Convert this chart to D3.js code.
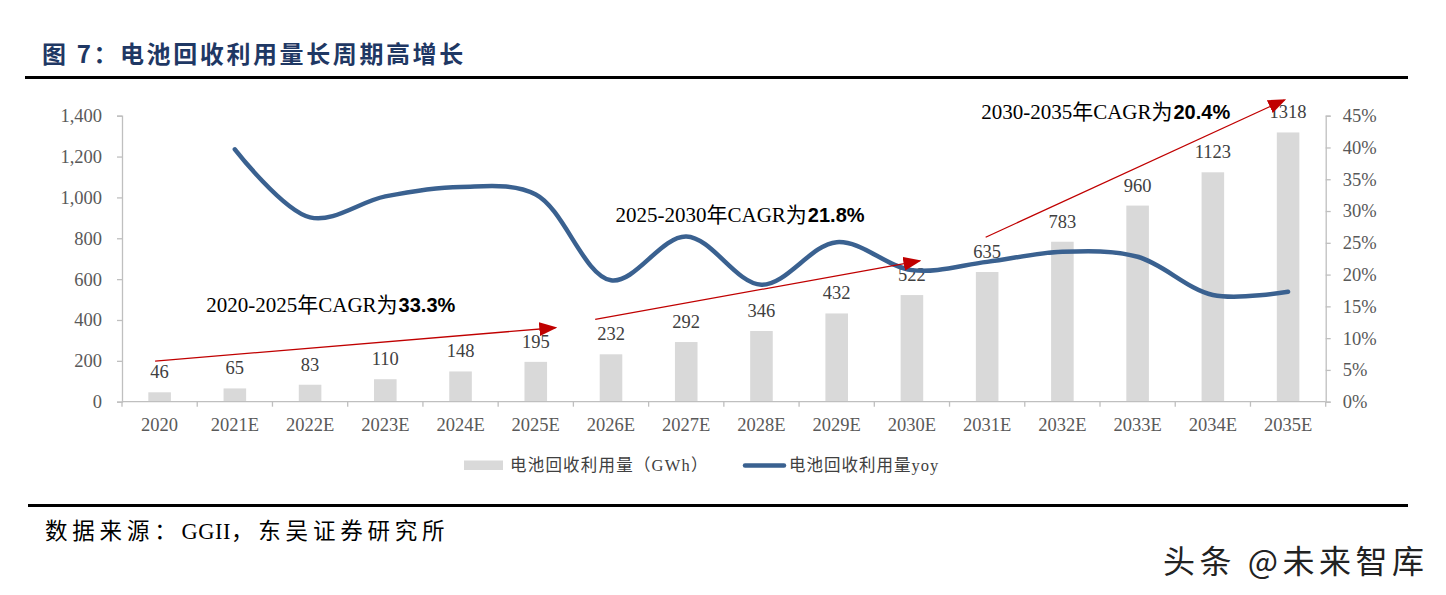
<!DOCTYPE html>
<html><head><meta charset="utf-8">
<script src="https://cdn.jsdelivr.net/npm/d3@7"></script>
<style>
html,body{margin:0;padding:0;background:#fff;}
svg{display:block;}
</style></head>
<body>
<svg id="chart" width="1446" height="595"></svg>
<script>
const categories = ["2020","2021E","2022E","2023E","2024E","2025E","2026E","2027E","2028E","2029E","2030E","2031E","2032E","2033E","2034E","2035E"];
const volume = [46,65,83,110,148,195,232,292,346,432,522,635,783,960,1123,1318];
const yoy = [null,0.397,0.290,0.323,0.338,0.326,0.191,0.260,0.184,0.251,0.207,0.220,0.236,0.228,0.168,0.173];
const leftTicks = [0,200,400,600,800,1000,1200,1400];
const rightTicks = [0,0.05,0.10,0.15,0.20,0.25,0.30,0.35,0.40,0.45];
const title = "图 7：电池回收利用量长周期高增长";
const sourceParts = ["数据来源：","GGII","，东吴证券研究所"];
const watermark = "头条 @未来智库";
const legendLabels = ["电池回收利用量（GWh）","电池回收利用量yoy"];
// CAGR annotations: arrow endpoints in (category index, left-axis value)
const cagrNotes = [
  {pre:"2020-2025年CAGR为", bold:"33.3%", tx:1.12, tv:440, x1:0.44, v1:199, x2:5.76, v2:362},
  {pre:"2025-2030年CAGR为", bold:"21.8%", tx:6.56, tv:881, x1:6.29, v1:403, x2:10.6, v2:689},
  {pre:"2030-2035年CAGR为", bold:"20.4%", tx:11.42, tv:1384, x1:11.48, v1:805, x2:15.45, v2:1477}
];

const svg = d3.select("#chart");
const serif = "'Liberation Serif','Times New Roman','Noto Sans CJK SC',serif";
const cjk = "'Liberation Serif','Noto Sans CJK SC',sans-serif";

const x = d3.scaleBand().domain(categories).range([122, 1325.7]).padding(0);
const yL = d3.scaleLinear().domain([0,1400]).range([401.7,115.7]);
const yR = d3.scaleLinear().domain([0,0.45]).range([401.7,115.7]);
const xi = i => x.range()[0] + i * x.step();

// title
svg.append("text").attr("x",42).attr("y",63)
  .attr("font-family","'Noto Sans CJK SC',sans-serif").attr("font-weight","bold")
  .attr("font-size",24).attr("fill","#1F3864").attr("letter-spacing",2.6).text(title);
svg.append("line").attr("x1",25).attr("x2",1408).attr("y1",77.5).attr("y2",77.5)
  .attr("stroke","#000").attr("stroke-width",3);

// bars
const barW = x.bandwidth()*0.3;
svg.append("g").selectAll("rect").data(volume).join("rect")
  .attr("x",(d,i)=>x(categories[i])+x.bandwidth()/2-barW/2)
  .attr("y",d=>yL(d)).attr("width",barW).attr("height",d=>yL(0)-yL(d))
  .attr("fill","#D9D9D9");

// axes
const axisColor = "#BFBFBF", labelColor = "#595959";
const gL = svg.append("g").attr("transform","translate(122,0)")
  .call(d3.axisLeft(yL).tickValues(leftTicks).tickFormat(d3.format(",")).tickSize(5).tickPadding(15));
const gR = svg.append("g").attr("transform","translate(1325.7,0)")
  .call(d3.axisRight(yR).tickValues(rightTicks).tickFormat(d3.format(".0%")).tickSize(5).tickPadding(12));
[gL,gR].forEach(g=>{
  g.select(".domain").attr("stroke",axisColor).attr("stroke-width",1.3);
  g.selectAll(".tick line").attr("stroke",axisColor).attr("stroke-width",1.3);
  g.selectAll(".tick text").attr("font-family",serif).attr("font-size",18.5).attr("fill",labelColor);
});
// x axis
const gX = svg.append("g");
gX.append("line").attr("x1",x.range()[0]).attr("x2",x.range()[1]).attr("y1",yL(0)).attr("y2",yL(0))
  .attr("stroke",axisColor).attr("stroke-width",1.3);
gX.selectAll("line.t").data(d3.range(categories.length+1)).join("line").attr("class","t")
  .attr("x1",i=>xi(i)).attr("x2",i=>xi(i)).attr("y1",yL(0)).attr("y2",yL(0)+5)
  .attr("stroke",axisColor).attr("stroke-width",1.3);
gX.selectAll("text").data(categories).join("text")
  .attr("x",d=>x(d)+x.bandwidth()/2).attr("y",431).attr("text-anchor","middle")
  .attr("font-family",serif).attr("font-size",18.5).attr("fill",labelColor).text(d=>d);

// data labels
svg.append("g").selectAll("text").data(volume).join("text")
  .attr("x",(d,i)=>x(categories[i])+x.bandwidth()/2).attr("y",d=>yL(d)-14)
  .attr("text-anchor","middle").attr("font-family",serif).attr("font-size",18.5)
  .attr("fill","#404040").text(d=>d);

// yoy line
const pts = yoy.map((v,i)=>({c:categories[i],v})).filter(d=>d.v!=null);
svg.append("path").datum(pts)
  .attr("d",d3.line().x(d=>x(d.c)+x.bandwidth()/2).y(d=>yR(d.v)).curve(d3.curveCatmullRom.alpha(0.5)))
  .attr("fill","none").attr("stroke","#3A6190").attr("stroke-width",4.5).attr("stroke-linecap","round");

// arrows
const defs = svg.append("defs");
defs.append("marker").attr("id","arr").attr("markerUnits","userSpaceOnUse")
  .attr("viewBox","0 0 18 14").attr("refX",16).attr("refY",7)
  .attr("markerWidth",18).attr("markerHeight",14).attr("orient","auto")
  .append("path").attr("d","M0,0 L18,7 L0,14 Z").attr("fill","#C00000");
const gA = svg.append("g");
cagrNotes.forEach(n=>{
  gA.append("line").attr("x1",xi(n.x1)).attr("y1",yL(n.v1)).attr("x2",xi(n.x2)).attr("y2",yL(n.v2))
    .attr("stroke","#C00000").attr("stroke-width",1.3).attr("marker-end","url(#arr)");
  const t = gA.append("text").attr("x",xi(n.tx)).attr("y",yL(n.tv))
    .attr("font-family",cjk).attr("font-size",21).attr("fill","#000");
  t.append("tspan").text(n.pre);
  t.append("tspan").attr("font-family","'Liberation Sans',Arial,sans-serif").attr("font-weight","bold")
    .attr("font-size",20).attr("dx",1).text(n.bold);
});

// legend
const lg = svg.append("g");
lg.append("rect").attr("x",464).attr("y",460.5).attr("width",39).attr("height",9.5).attr("fill","#D9D9D9");
lg.append("text").attr("x",510).attr("y",471).attr("font-family",cjk).attr("font-size",16.5)
  .attr("letter-spacing",1.2).attr("fill","#404040").text(legendLabels[0]);
lg.append("line").attr("x1",745).attr("x2",784).attr("y1",465.5).attr("y2",465.5)
  .attr("stroke","#3A6190").attr("stroke-width",4.5).attr("stroke-linecap","round");
lg.append("text").attr("x",789).attr("y",471).attr("font-family",cjk).attr("font-size",16.5)
  .attr("letter-spacing",1).attr("fill","#404040").text(legendLabels[1]);

// bottom rule and source
svg.append("line").attr("x1",28).attr("x2",1408).attr("y1",505.5).attr("y2",505.5)
  .attr("stroke","#000").attr("stroke-width",3);
const st = svg.append("text").attr("x",45).attr("y",539).attr("font-family",cjk).attr("font-size",22.5)
  .attr("fill","#000");
st.append("tspan").attr("letter-spacing",4.8).text(sourceParts[0]);
st.append("tspan").attr("letter-spacing",0.5).text(sourceParts[1]);
st.append("tspan").attr("letter-spacing",4.8).text(sourceParts[2]);

// watermark
svg.append("text").attr("x",1163).attr("y",573).attr("font-family","'Noto Sans CJK SC',sans-serif")
  .attr("font-size",32).attr("letter-spacing",4.5).attr("fill","#222").text(watermark);
</script>
</body></html>
